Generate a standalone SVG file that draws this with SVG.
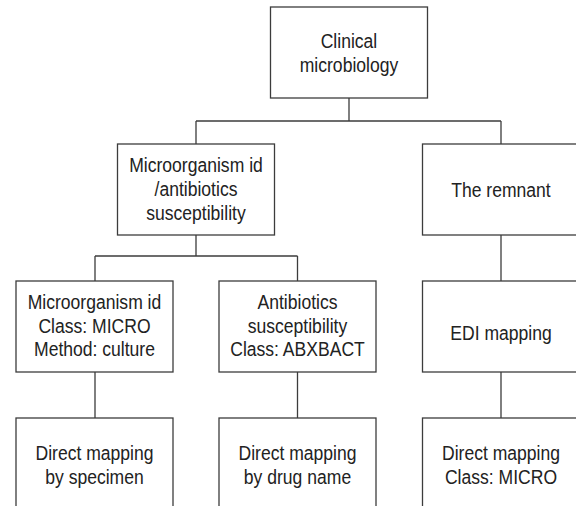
<svg xmlns="http://www.w3.org/2000/svg" width="576" height="506" viewBox="0 0 576 506">
<style>
.box{fill:#fff;stroke:#3c3c3c;stroke-width:1.3}
.ln{fill:none;stroke:#3c3c3c;stroke-width:1.3}
text{font-family:"Liberation Sans",Arial,sans-serif;font-size:21px;fill:#222;text-anchor:middle}
</style>
<rect width="576" height="506" fill="#fff"/>
<g id="connectors">
<path class="ln" d="M349,98V121M196,121H501M196,121V144M501,121V144"/>
<path class="ln" d="M196,235V256M95,256H297.5M95,256V281M297.5,256V281"/>
<path class="ln" d="M501,235V281"/>
<path class="ln" d="M95,372V418M297.5,372V418M501,372V418"/>
</g>
<g id="clinical">
<rect class="box" x="270.5" y="7" width="157" height="91"/>
<g transform="scale(0.836 1)">
<text x="417.46" y="48.5">Clinical</text>
<text x="417.46" y="72.5">microbiology</text>
</g>
</g>
<g id="microorganism-antibiotics">
<rect class="box" x="117.5" y="144" width="157" height="91"/>
<g transform="scale(0.836 1)">
<text x="234.45" y="172">Microorganism id</text>
<text x="234.45" y="196">/antibiotics</text>
<text x="234.45" y="220">susceptibility</text>
</g>
</g>
<g id="remnant">
<rect class="box" x="422.5" y="144" width="157" height="91"/>
<g transform="scale(0.836 1)">
<text x="599.28" y="197">The remnant</text>
</g>
</g>
<g id="micro-id">
<rect class="box" x="16" y="281" width="157" height="91"/>
<g transform="scale(0.836 1)">
<text x="113.04" y="309">Microorganism id</text>
<text x="113.04" y="332.7">Class: MICRO</text>
<text x="113.04" y="356.4">Method: culture</text>
</g>
</g>
<g id="antibiotics">
<rect class="box" x="219" y="281" width="157" height="91"/>
<g transform="scale(0.836 1)">
<text x="355.86" y="309">Antibiotics</text>
<text x="355.86" y="332.7">susceptibility</text>
<text x="355.86" y="356.4">Class: ABXBACT</text>
</g>
</g>
<g id="edi">
<rect class="box" x="422.5" y="281" width="157" height="91"/>
<g transform="scale(0.836 1)">
<text x="599.28" y="340">EDI mapping</text>
</g>
</g>
<g id="direct-specimen">
<rect class="box" x="16" y="418" width="157" height="100"/>
<g transform="scale(0.836 1)">
<text x="113.04" y="460">Direct mapping</text>
<text x="113.04" y="484">by specimen</text>
</g>
</g>
<g id="direct-drug">
<rect class="box" x="219" y="418" width="157" height="100"/>
<g transform="scale(0.836 1)">
<text x="355.86" y="460">Direct mapping</text>
<text x="355.86" y="484">by drug name</text>
</g>
</g>
<g id="direct-micro">
<rect class="box" x="422.5" y="418" width="157" height="100"/>
<g transform="scale(0.836 1)">
<text x="599.28" y="460">Direct mapping</text>
<text x="599.28" y="484">Class: MICRO</text>
</g>
</g>
</svg>
